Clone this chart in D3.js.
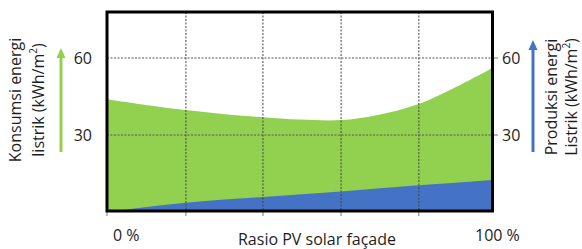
<!DOCTYPE html>
<html>
<head>
<meta charset="utf-8">
<script src="https://cdn.jsdelivr.net/npm/d3@7"></script>
<style>
  html, body { margin: 0; padding: 0; background: #fff; }
  svg { display: block; font-family: "Open Sans", sans-serif; }
</style>
</head>
<body>
<svg id="chart" width="582" height="249"></svg>
<script>
// ---- data ----
const xValues = [0, 10, 20.5, 30, 40.5, 50, 60.8, 70, 81, 90, 100];
const consumption = [43.9, 41.7, 39.7, 38.2, 36.9, 36.0, 35.8, 37.7, 42.1, 48.2, 56.0];
const prodX = [0, 20.5, 40.5, 60.8, 81, 100];
const production = [0, 3.6, 5.8, 8.0, 10.4, 12.5];
const gridX = [20.5, 40.5, 60.8, 81];
const tickX = [0, 20.5, 40.5, 60.8, 81];
const yTicks = [30, 60];
const xEndLabels = ["0 %", "100 %"];
const xTitle = "Rasio PV solar façade";
const leftTitle = ["Konsumsi energi", "listrik (kWh/m", "2", ")"];
const rightTitle = ["Produksi energi", "Listrik (kWh/m", "2", ")"];

const GREEN = "#92D050", BLUE = "#4472C4";

const svg = d3.select("#chart");
const x = d3.scaleLinear().domain([0, 100]).range([107, 492]);
const y = d3.scaleLinear().domain([0, 60]).range([212, 58]);
const yTop = 12, yBot = 211;

// areas
const greenArea = d3.area()
  .x((d, i) => x(xValues[i]))
  .y0(y(0)).y1(d => y(d))
  .curve(d3.curveCatmullRom.alpha(0.5));
svg.append("path").datum(consumption).attr("d", greenArea).attr("fill", GREEN);

const blueArea = d3.area()
  .x((d, i) => x(prodX[i]))
  .y0(y(0)).y1(d => y(d))
  .curve(d3.curveMonotoneX);
svg.append("path").datum(production).attr("d", blueArea).attr("fill", BLUE);

// gridlines
svg.append("g").selectAll("line").data(gridX).join("line")
  .attr("x1", d => x(d)).attr("x2", d => x(d))
  .attr("y1", yTop).attr("y2", yBot)
  .attr("stroke", "#444").attr("stroke-width", 1).attr("stroke-dasharray", "2,1.5");
svg.append("g").selectAll("line").data(yTicks).join("line")
  .attr("x1", x(0)).attr("x2", x(100))
  .attr("y1", d => y(d)).attr("y2", d => y(d))
  .attr("stroke", "#555").attr("stroke-width", 1).attr("stroke-dasharray", "2,1.5");

// bottom ticks
svg.append("g").selectAll("line").data(tickX).join("line")
  .attr("x1", d => x(d)).attr("x2", d => x(d))
  .attr("y1", yBot).attr("y2", yBot + 5)
  .attr("stroke", "#777").attr("stroke-width", 1);

// right ticks
svg.append("g").selectAll("line").data(yTicks).join("line")
  .attr("x1", x(100)).attr("x2", x(100) + 6)
  .attr("y1", d => y(d)).attr("y2", d => y(d))
  .attr("stroke", "#777").attr("stroke-width", 1);

// frame
svg.append("rect").attr("x", x(0)).attr("y", yTop)
  .attr("width", x(100) - x(0) + 0.5).attr("height", yBot - yTop)
  .attr("fill", "none").attr("stroke", "#000").attr("stroke-width", 3);

// tick labels
const txtColor = "#1e1e1e";
svg.append("g").selectAll("text").data(yTicks).join("text")
  .attr("x", 92).attr("y", d => y(d)).attr("dy", "0.36em")
  .attr("text-anchor", "end").attr("font-size", 16).attr("fill", txtColor)
  .text(d => d);
svg.append("g").selectAll("text").data(yTicks).join("text")
  .attr("x", 502).attr("y", d => y(d)).attr("dy", "0.36em")
  .attr("text-anchor", "start").attr("font-size", 16).attr("fill", txtColor)
  .text(d => d);

// x labels
svg.append("text").attr("x", 113).attr("y", 241).attr("font-size", 16).attr("fill", txtColor).text(xEndLabels[0]);
svg.append("text").attr("x", 475).attr("y", 241).attr("font-size", 16).attr("fill", txtColor).text(xEndLabels[1]);
svg.append("text").attr("x", 317).attr("y", 244.5).attr("text-anchor", "middle")
  .attr("font-size", 16).attr("fill", txtColor).text(xTitle);

// arrows
function arrow(cx, yTip, yBase, color) {
  svg.append("line").attr("x1", cx).attr("x2", cx).attr("y1", yBase).attr("y2", yTip + 8)
    .attr("stroke", color).attr("stroke-width", 3);
  svg.append("path")
    .attr("d", `M${cx},${yTip} L${cx - 4.5},${yTip + 10} L${cx + 4.5},${yTip + 10} Z`)
    .attr("fill", color);
}
arrow(61, 48, 152, GREEN);
arrow(533, 40, 152, BLUE);

// rotated titles
function vtitle(lines, bx1, bx2, cy) {
  const g = svg.append("g");
  g.append("text").attr("transform", `translate(${bx1},${cy}) rotate(-90)`)
    .attr("text-anchor", "middle").attr("font-size", 16).attr("fill", txtColor)
    .text(lines[0]);
  const t = g.append("text").attr("transform", `translate(${bx2},${cy}) rotate(-90)`)
    .attr("text-anchor", "middle").attr("font-size", 16).attr("fill", txtColor);
  t.append("tspan").text(lines[1]);
  t.append("tspan").attr("font-size", 10).attr("dy", -7).text(lines[2]);
  t.append("tspan").attr("dy", 7).text(lines[3]);
}
vtitle(leftTitle, 21, 44, 100);
vtitle(rightTitle, 557, 577, 97);
</script>
</body>
</html>
